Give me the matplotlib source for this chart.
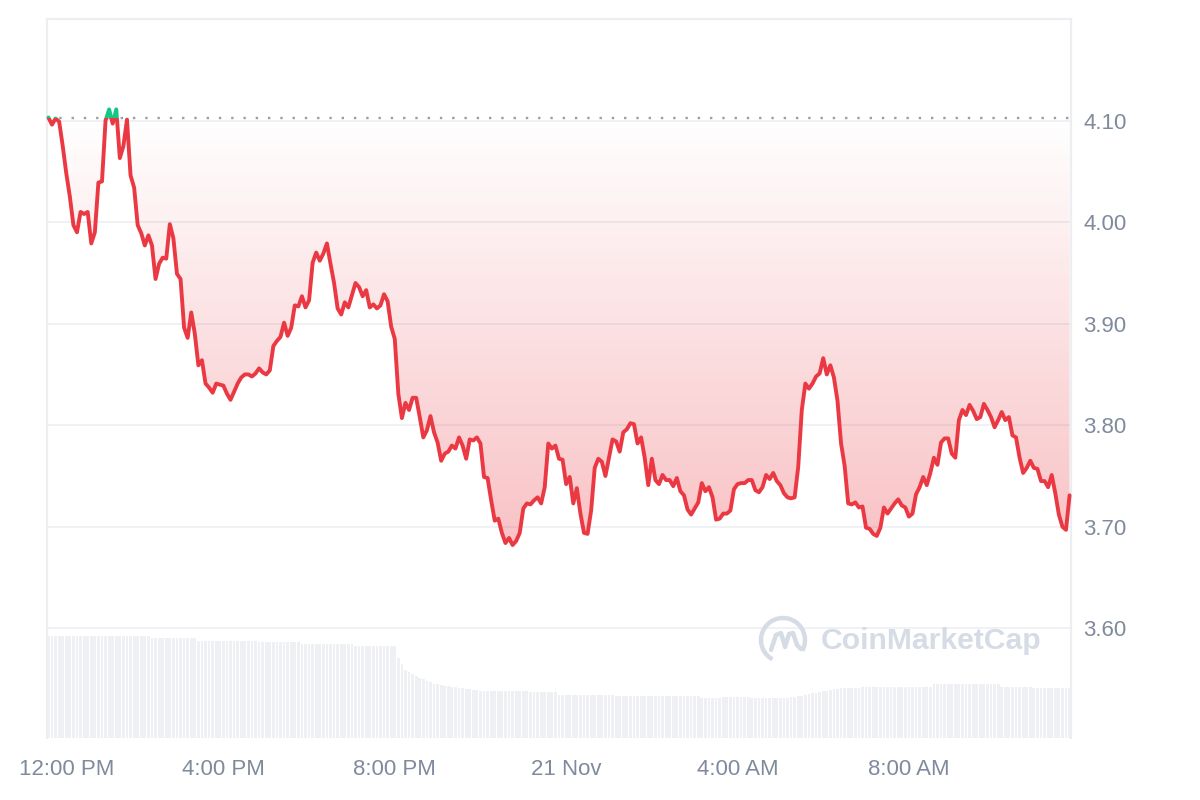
import numpy as np
import pandas as pd
import matplotlib
matplotlib.use("Agg")
from matplotlib import pyplot as plt
import matplotlib.dates as mdates
from matplotlib.patches import Rectangle, Arc
from matplotlib.path import Path
from matplotlib.colors import LinearSegmentedColormap
from matplotlib.transforms import ScaledTranslation

plt.rcParams['font.family'] = ['Liberation Sans', 'DejaVu Sans']

# 5 minute price samples, 20 Nov 11:55 AM -> 21 Nov 11:45 AM
prices = [
    4.103, 4.096, 4.102, 4.099, 4.075, 4.048, 4.025, 3.997, 3.990, 4.010,
    4.008, 4.010, 3.979, 3.990, 4.039, 4.040, 4.100, 4.111, 4.097, 4.111,
    4.063, 4.075, 4.101, 4.046, 4.034, 3.997, 3.989, 3.977, 3.987, 3.977,
    3.944, 3.959, 3.965, 3.964, 3.998, 3.984, 3.949, 3.944, 3.896, 3.886,
    3.911, 3.890, 3.859, 3.864, 3.841, 3.837, 3.832, 3.841, 3.840, 3.839,
    3.831, 3.825, 3.833, 3.841, 3.847, 3.850, 3.850, 3.848, 3.851, 3.856,
    3.852, 3.850, 3.854, 3.878, 3.883, 3.887, 3.901, 3.888, 3.896, 3.918,
    3.917, 3.927, 3.916, 3.923, 3.960, 3.970, 3.962, 3.969, 3.979, 3.959,
    3.940, 3.915, 3.909, 3.921, 3.916, 3.928, 3.940, 3.936, 3.927, 3.933,
    3.916, 3.919, 3.915, 3.918, 3.929, 3.922, 3.897, 3.885, 3.831, 3.807,
    3.822, 3.815, 3.827, 3.827, 3.808, 3.788, 3.795, 3.809, 3.793, 3.783,
    3.765, 3.772, 3.774, 3.780, 3.777, 3.788, 3.780, 3.767, 3.786, 3.785,
    3.788, 3.782, 3.749, 3.748, 3.726, 3.706, 3.708, 3.694, 3.684, 3.689,
    3.682, 3.686, 3.694, 3.718, 3.723, 3.722, 3.726, 3.729, 3.723, 3.739,
    3.782, 3.777, 3.780, 3.767, 3.766, 3.742, 3.749, 3.723, 3.738, 3.713,
    3.694, 3.693, 3.716, 3.758, 3.767, 3.764, 3.750, 3.768, 3.786, 3.784,
    3.774, 3.793, 3.796, 3.802, 3.801, 3.782, 3.788, 3.768, 3.741, 3.767,
    3.746, 3.742, 3.751, 3.746, 3.746, 3.740, 3.748, 3.735, 3.731, 3.717,
    3.712, 3.718, 3.724, 3.743, 3.735, 3.739, 3.729, 3.707, 3.708, 3.713,
    3.713, 3.716, 3.737, 3.742, 3.743, 3.743, 3.746, 3.746, 3.736, 3.734,
    3.739, 3.751, 3.747, 3.753, 3.745, 3.741, 3.733, 3.729, 3.728, 3.729,
    3.759, 3.815, 3.841, 3.836, 3.841, 3.848, 3.851, 3.866, 3.850, 3.859,
    3.847, 3.824, 3.782, 3.760, 3.723, 3.722, 3.724, 3.719, 3.720, 3.699,
    3.698, 3.693, 3.691, 3.699, 3.719, 3.713, 3.718, 3.723, 3.727, 3.721,
    3.719, 3.710, 3.713, 3.732, 3.739, 3.749, 3.741, 3.753, 3.768, 3.761,
    3.783, 3.787, 3.787, 3.772, 3.768, 3.805, 3.815, 3.810, 3.820, 3.814,
    3.806, 3.808, 3.821, 3.815, 3.808, 3.798, 3.805, 3.813, 3.805, 3.808,
    3.790, 3.788, 3.768, 3.753, 3.758, 3.765, 3.758, 3.757, 3.745, 3.745,
    3.739, 3.751, 3.733, 3.712, 3.700, 3.697, 3.731,
]

# 24h volume (relative units), read as runs: (level, number of samples)
volume_runs = [
    (10.2, 29), (10.0, 13), (9.7, 17), (9.6, 12), (9.4, 15), (9.2, 12),
    (8.0, 1), (7.4, 1), (6.8, 1), (6.6, 1), (6.4, 1), (6.2, 1), (6.0, 1),
    (5.9, 1), (5.7, 1), (5.6, 1), (5.4, 2), (5.3, 1), (5.2, 2), (5.1, 2),
    (5.0, 2), (4.9, 2), (4.8, 2), (4.7, 14), (4.6, 8), (4.3, 16), (4.2, 24),
    (4.0, 6), (4.1, 8), (4.0, 11), (4.1, 2), (4.2, 2), (4.3, 1), (4.4, 1),
    (4.5, 2), (4.6, 1), (4.7, 2), (4.8, 1), (4.9, 2), (5.0, 6), (5.1, 20),
    (5.4, 19), (5.1, 9), (5.0, 11),
]

tick_times = ["2024-11-20 12:00", "2024-11-20 16:00", "2024-11-20 20:00",
              "2024-11-21 00:00", "2024-11-21 04:00", "2024-11-21 08:00"]
tick_labels = ["12:00 PM", "4:00 PM", "8:00 PM", "21 Nov", "4:00 AM", "8:00 AM"]
price_ticks = [3.60, 3.70, 3.80, 3.90, 4.00, 4.10]

RED = "#ea3943"
GREEN = "#16c784"
GRAY_TXT = "#808a9d"
GRID = "#eff1f4"

prices = np.array(prices)
times = pd.date_range("2024-11-20 11:55", periods=len(prices), freq="5min")
t = mdates.date2num(times)
volume = np.concatenate([np.full(n, v) for v, n in volume_runs])
baseline = prices[0]

fig = plt.figure(figsize=(12, 8), dpi=100)
ax2 = fig.add_axes([47 / 1200, 62 / 800, 1024 / 1200, 719 / 800])
ax = fig.add_axes(ax2.get_position(), sharex=ax2)
ax.set_zorder(ax2.get_zorder() + 1)
ax.patch.set_visible(False)

# volume bars
step = t[1] - t[0]
ax2.bar(t, volume, width=step * 0.78, color="#eef0f3", linewidth=0)
ax2.set_ylim(0, 72)
ax2.set_yticks([])
for s in ax2.spines.values():
    s.set_visible(False)

ylo, yhi = 3.492, 4.200

# grid
for p in price_ticks:
    ax.axhline(p, color=GRID, lw=1.4, zorder=0)

# gradient fill between baseline and price
poly = ax.fill_between(t, prices, baseline, where=prices <= baseline,
                       interpolate=True, facecolor="none", edgecolor="none")
clip = Path.make_compound_path(*poly.get_paths())
cmap = LinearSegmentedColormap.from_list(
    "fade", [(0.918, 0.224, 0.263, 0.31), (0.918, 0.224, 0.263, 0.0)])
grad = np.linspace(0, 1, 256).reshape(-1, 1)
pmin = prices.min()
im = ax.imshow(grad, cmap=cmap, aspect="auto", origin="lower",
               extent=[t[0], t[-1], pmin, baseline], zorder=1)
im.set_clip_path(clip, transform=ax.transData)
ax.set_xlim(t[0] - step * 0.4, t[-1] + step * 0.4)
ax.set_ylim(ylo, yhi)

# baseline dotted
ax.axhline(baseline, color="#9e9e9e", lw=1.7, ls=(0, (1, 4.2)), zorder=2)

# price line, red below baseline, green above
red_line, = ax.plot(t, prices, color=RED, lw=2.8, zorder=3,
                    solid_joinstyle="round", solid_capstyle="round")
green_line, = ax.plot(t, prices, color=GREEN, lw=2.8, zorder=3,
                      solid_joinstyle="round", solid_capstyle="round")
below = Rectangle((t[0] - 1, ylo - 1), 3, baseline - ylo + 1, transform=ax.transData)
above = Rectangle((t[0] - 1, baseline), 3, 2, transform=ax.transData)
red_line.set_clip_path(below)
green_line.set_clip_path(above)

# frame
for side in ["top", "left", "right"]:
    ax.spines[side].set_color("#eceef1")
    ax.spines[side].set_linewidth(1.6)
ax.spines["bottom"].set_visible(False)

# ticks
ax.yaxis.tick_right()
ax.set_yticks(price_ticks)
ax.set_yticklabels([f"{p:.2f}" for p in price_ticks])
ax.tick_params(axis="y", length=0, pad=9, labelsize=16, labelcolor=GRAY_TXT)
ax.set_xticks(mdates.date2num(pd.to_datetime(tick_times)))
ax.set_xticklabels(tick_labels)
ax.tick_params(axis="x", length=0, pad=15, labelsize=16, labelcolor=GRAY_TXT)
ax2.tick_params(axis="x", length=0, labelbottom=False)
first = ax.get_xticklabels()[0]
first.set_transform(first.get_transform() + ScaledTranslation(0.145, 0, fig.dpi_scale_trans))

# watermark
wm = "#d6dce5"
cx, cy = 783 / 1200, 1 - 640 / 800
fig.patches.append(Arc((cx, cy), 44 / 1200, 44 / 800, theta1=-40, theta2=250,
                       transform=fig.transFigure, color=wm, lw=3.2))
wx = np.array([771, 776, 781, 785, 789, 793, 797, 801]) / 1200
wy = 1 - np.array([650, 635, 633, 647, 634, 633, 645, 649]) / 800
fig.lines.append(plt.Line2D(wx, wy, transform=fig.transFigure, color=wm, lw=3.2,
                            solid_joinstyle="round", solid_capstyle="round"))
fig.text(821 / 1200, 1 - 641 / 800, "CoinMarketCap", fontsize=21.7, fontweight="bold",
         color=wm, va="center", ha="left")

fig.savefig("out.png", dpi=100, facecolor="white")
